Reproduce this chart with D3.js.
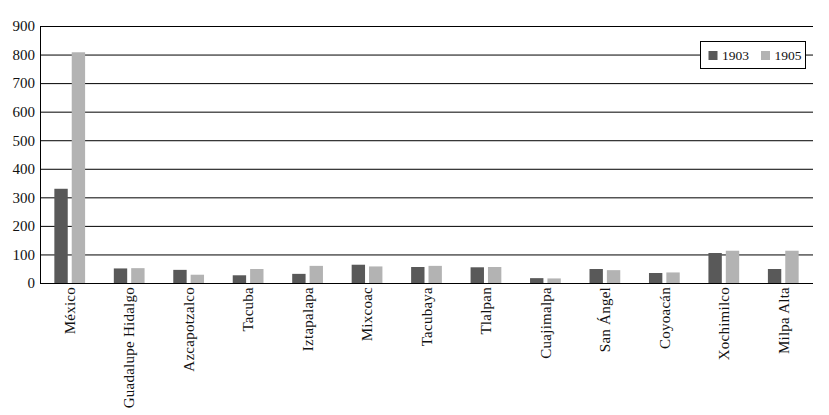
<!DOCTYPE html>
<html>
<head>
<meta charset="utf-8">
<script src="https://cdn.jsdelivr.net/npm/d3@7/dist/d3.min.js"></script>
<style>
  body { margin: 0; background: #fff; }
  svg text { font-family: "Liberation Serif", "DejaVu Serif", serif; fill: #111; }
</style>
</head>
<body>
<svg width="829" height="415"></svg>
<script>
const municipios = ['México', 'Guadalupe Hidalgo', 'Azcapotzalco', 'Tacuba', 'Iztapalapa', 'Mixcoac',
  'Tacubaya', 'Tlalpan', 'Cuajimalpa', 'San Ángel', 'Coyoacán', 'Xochimilco', 'Milpa Alta'];
const v1903 = [330, 51, 46, 27, 32, 64, 56, 55, 17, 49, 35, 105, 49];
const v1905 = [808, 52, 29, 49, 60, 58, 60, 56, 16, 45, 37, 113, 113];
const years = ['1903', '1905'];
const yTicks = [0, 100, 200, 300, 400, 500, 600, 700, 800, 900];

const colors = {'1903': '#595959', '1905': '#b3b3b3'};

const svg = d3.select('svg');
const margin = {top: 26, right: 16, bottom: 132, left: 40},
    width = +svg.attr('width') - margin.left - margin.right,
    height = +svg.attr('height') - margin.top - margin.bottom;

const g = svg.append('g')
  .attr('transform', 'translate(' + margin.left + ',' + margin.top + ')');

const data = municipios.map((m, i) => ({name: m, '1903': v1903[i], '1905': v1905[i]}));

const x = d3.scaleBand().domain(municipios).range([0, width]);
const y = d3.scaleLinear().domain([0, 900]).range([height, 0]);

// grid lines
g.selectAll('.grid')
  .data(yTicks)
  .enter().append('line')
  .attr('class', 'grid')
  .attr('x1', 0).attr('x2', width)
  .attr('y1', d => y(d) + 0.5).attr('y2', d => y(d) + 0.5)
  .attr('stroke', '#000').attr('stroke-width', 1);

// y axis
const yAxis = g.append('g')
  .call(d3.axisLeft(y).tickValues(yTicks).tickSize(0).tickPadding(5));
yAxis.select('.domain').attr('stroke', '#000').attr('d', 'M0.5,0V' + height);
yAxis.selectAll('text')
  .style('font-size', '15px')
  .style('font-family', '"Liberation Serif", serif')
  .attr('fill', '#111');

// bars
const barW = x.bandwidth() * 0.225;
const gap = 4;
const cat = g.selectAll('.cat')
  .data(data)
  .enter().append('g')
  .attr('class', 'cat')
  .attr('transform', d => 'translate(' + (x(d.name) + x.bandwidth() / 2) + ',0)');

cat.append('rect')
  .attr('x', -gap / 2 - barW)
  .attr('y', d => y(d['1903']))
  .attr('width', barW)
  .attr('height', d => height - y(d['1903']))
  .attr('fill', colors['1903']);

cat.append('rect')
  .attr('x', gap / 2)
  .attr('y', d => y(d['1905']))
  .attr('width', barW)
  .attr('height', d => height - y(d['1905']))
  .attr('fill', colors['1905']);

// x axis
const xAxis = g.append('g')
  .attr('transform', 'translate(0,' + height + ')')
  .call(d3.axisBottom(x).tickSize(0).tickPadding(0));
xAxis.select('.domain').attr('stroke', '#000').attr('d', 'M0,0.5H' + width);
xAxis.selectAll('text')
  .style('font-size', '15px')
  .style('font-family', '"Liberation Serif", serif')
  .style('letter-spacing', '0.25px')
  .attr('fill', '#111')
  .attr('text-anchor', 'end')
  .attr('dy', '0.35em')
  .attr('transform', 'translate(0,4) rotate(-90)')
  .attr('x', 0).attr('y', 0);

// legend
const lg = svg.append('g').attr('transform', 'translate(700.5,41.5)');
lg.append('rect')
  .attr('width', 105).attr('height', 27)
  .attr('fill', '#fff').attr('stroke', '#000');
years.forEach((yr, i) => {
  const item = lg.append('g').attr('transform', 'translate(' + (8 + i * 52.5) + ',0)');
  item.append('rect')
    .attr('x', 0).attr('y', 9.5).attr('width', 9).attr('height', 9)
    .attr('fill', colors[yr]);
  item.append('text')
    .attr('x', 13.5).attr('y', 18.5)
    .style('font-size', '13.5px')
    .text(yr);
});
</script>
</body>
</html>
